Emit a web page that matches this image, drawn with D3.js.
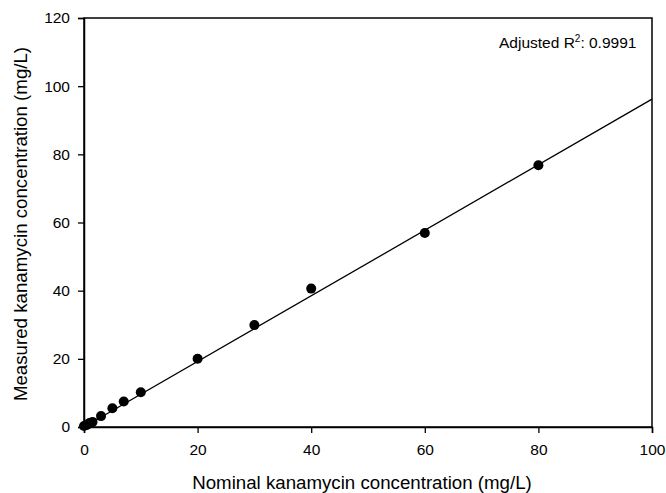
<!DOCTYPE html>
<html><head><meta charset="utf-8">
<script src="https://cdn.jsdelivr.net/npm/d3@7"></script>
<style>body{margin:0;background:#fff}svg{display:block}text{font-family:"Liberation Sans",Arial,sans-serif;fill:#000}</style>
</head><body><svg id="c" width="666" height="493"></svg>
<script>
const nominal = [0, 0.5, 1, 1.5, 3, 5, 7, 10, 20, 30, 40, 60, 80];
const measured = [0.3, 0.6, 1.2, 1.5, 3.2, 5.5, 7.5, 10.2, 20.0, 29.9, 40.6, 56.9, 76.8];
const fitSlope = 0.962;
const fitIntercept = 0.0;
const xTicks = [0, 20, 40, 60, 80, 100];
const yTicks = [0, 20, 40, 60, 80, 100, 120];
const annotation = "0.9991";

const svg = d3.select("#c");
const L = 84, R = 652, T = 18, B = 427;
const x = d3.scaleLinear().domain([0, 100]).range([L, R]);
const y = d3.scaleLinear().domain([0, 120]).range([B, T]);

// frame
svg.append("rect").attr("x", L).attr("y", T).attr("width", R - L).attr("height", B - T)
  .attr("fill", "none").attr("stroke", "#000").attr("stroke-width", 1.5);

const xa = svg.append("g").attr("transform", `translate(0,${B})`)
  .call(d3.axisBottom(x).tickValues(xTicks).tickSize(6).tickPadding(11));
const ya = svg.append("g").attr("transform", `translate(${L},0)`)
  .call(d3.axisLeft(y).tickValues(yTicks).tickSize(6).tickPadding(8));
[xa, ya].forEach(g => {
  g.select(".domain").attr("stroke", "#000").attr("stroke-width", 1.5);
  g.selectAll(".tick line").attr("stroke", "#000").attr("stroke-width", 1.3);
  g.selectAll("text").style("font-size", "15.5px").style("font-family", "Liberation Sans, Arial, sans-serif");
});

// fit line
const line = d3.line().x(d => x(d)).y(d => y(fitSlope * d + fitIntercept));
svg.append("path").datum([0, 100]).attr("d", line)
  .attr("fill", "none").attr("stroke", "#000").attr("stroke-width", 1.3);

// points
svg.append("g").selectAll("circle").data(nominal.map((d, i) => [d, measured[i]]))
  .join("circle").attr("cx", d => x(d[0])).attr("cy", d => y(d[1])).attr("r", 5).attr("fill", "#000");

// titles
svg.append("text").attr("x", 362).attr("y", 489).attr("text-anchor", "middle")
  .style("font-size", "18.7px").text("Nominal kanamycin concentration (mg/L)");
svg.append("text").attr("transform", `translate(27,224) rotate(-90)`).attr("text-anchor", "middle")
  .style("font-size", "18.7px").text("Measured kanamycin concentration (mg/L)");

// annotation
const ann = svg.append("text").attr("x", 499).attr("y", 48).style("font-size", "15.5px");
ann.append("tspan").text("Adjusted R");
ann.append("tspan").attr("dy", -6.5).style("font-size", "10px").text("2");
ann.append("tspan").attr("dy", 6.5).text(": " + annotation);
</script></body></html>
